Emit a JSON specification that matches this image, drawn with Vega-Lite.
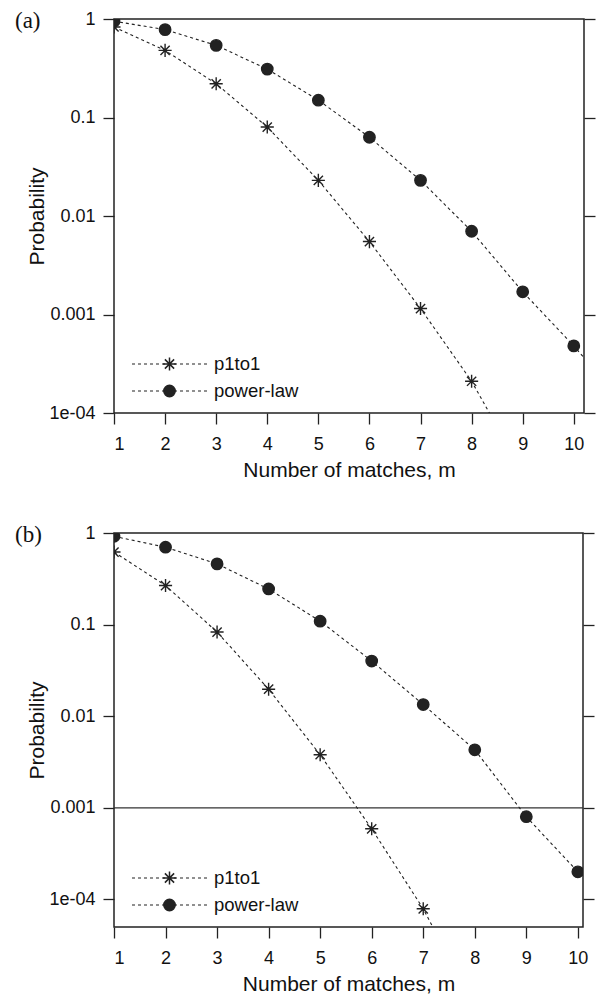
{
  "$schema": "https://vega.github.io/schema/vega-lite/v6.json",
  "padding": {"left": 14, "top": 9, "right": 2, "bottom": 0},
  "spacing": 42,
  "resolve": {"scale": {"shape": "independent", "strokeDash": "independent"}},
  "config": {
    "font": "Liberation Sans",
    "view": {"stroke": "#222", "strokeWidth": 1.5},
    "axis": {
      "labelFont": "Liberation Sans", "labelFontSize": 18, "labelColor": "#111",
      "titleFont": "Liberation Sans", "titleFontSize": 21, "titleFontWeight": "normal", "titleColor": "#111",
      "tickColor": "#222", "tickSize": 11, "tickWidth": 1.3, "domain": false, "grid": false
    },
    "axisX": {"labelPadding": 11, "titlePadding": 6},
    "axisY": {"labelPadding": 8, "titlePadding": 1},
    "legend": {"labelFont": "Liberation Sans", "labelFontSize": 18.5, "labelColor": "#111", "padding": 0}
  },
  "datasets": {
    "a": [
      {"m": 1, "p": 0.83, "series": "p1to1"},
      {"m": 2, "p": 0.48, "series": "p1to1"},
      {"m": 3, "p": 0.22, "series": "p1to1"},
      {"m": 4, "p": 0.08, "series": "p1to1"},
      {"m": 5, "p": 0.023, "series": "p1to1"},
      {"m": 6, "p": 0.0055, "series": "p1to1"},
      {"m": 7, "p": 0.00115, "series": "p1to1"},
      {"m": 8, "p": 0.00021, "series": "p1to1"},
      {"m": 9, "p": 0.000025, "series": "p1to1"},
      {"m": 1, "p": 0.95, "series": "power-law"},
      {"m": 2, "p": 0.78, "series": "power-law"},
      {"m": 3, "p": 0.54, "series": "power-law"},
      {"m": 4, "p": 0.31, "series": "power-law"},
      {"m": 5, "p": 0.15, "series": "power-law"},
      {"m": 6, "p": 0.063, "series": "power-law"},
      {"m": 7, "p": 0.023, "series": "power-law"},
      {"m": 8, "p": 0.007, "series": "power-law"},
      {"m": 9, "p": 0.0017, "series": "power-law"},
      {"m": 10, "p": 0.00048, "series": "power-law"},
      {"m": 11, "p": 0.00012, "series": "power-law"}
    ],
    "b": [
      {"m": 1, "p": 0.62, "series": "p1to1"},
      {"m": 2, "p": 0.267, "series": "p1to1"},
      {"m": 3, "p": 0.083, "series": "p1to1"},
      {"m": 4, "p": 0.0197, "series": "p1to1"},
      {"m": 5, "p": 0.0038, "series": "p1to1"},
      {"m": 6, "p": 0.00059, "series": "p1to1"},
      {"m": 7, "p": 0.000079, "series": "p1to1"},
      {"m": 8, "p": 0.0000067, "series": "p1to1"},
      {"m": 1, "p": 0.92, "series": "power-law"},
      {"m": 2, "p": 0.70, "series": "power-law"},
      {"m": 3, "p": 0.46, "series": "power-law"},
      {"m": 4, "p": 0.245, "series": "power-law"},
      {"m": 5, "p": 0.109, "series": "power-law"},
      {"m": 6, "p": 0.040, "series": "power-law"},
      {"m": 7, "p": 0.0134, "series": "power-law"},
      {"m": 8, "p": 0.0043, "series": "power-law"},
      {"m": 9, "p": 0.0008, "series": "power-law"},
      {"m": 10, "p": 0.0002, "series": "power-law"},
      {"m": 11, "p": 0.000045, "series": "power-law"}
    ]
  },
  "vconcat": [
    {
      "title": {"text": "(a)", "orient": "top", "anchor": "start", "frame": "group", "font": "Liberation Serif", "fontSize": 23, "fontWeight": "normal", "color": "#111", "baseline": "middle", "offset": 0, "dx": -99, "dy": 34},
      "width": 470,
      "height": 394,
      "data": {"name": "a"},
      "resolve": {"axis": {"y": "independent"}},
      "layer": [
        {
          "mark": {"type": "line", "clip": true, "color": "#222", "strokeWidth": 1.1},
          "encoding": {
            "x": {"field": "m", "type": "quantitative", "scale": {"domain": [1, 10.2], "nice": false, "zero": false},
                  "axis": {"values": [1, 2, 3, 4, 5, 6, 7, 8, 9, 10], "title": "Number of matches, m"}},
            "y": {"field": "p", "type": "quantitative", "scale": {"type": "log", "domain": [0.0001, 1], "nice": false},
                  "axis": {"values": [1, 0.1, 0.01, 0.001, 0.0001], "labelExpr": "datum.value < 0.0005 ? '1e-04' : datum.value < 0.005 ? '0.001' : datum.value < 0.05 ? '0.01' : datum.value < 0.5 ? '0.1' : '1'", "title": "Probability"}},
            "strokeDash": {"field": "series", "type": "nominal", "scale": {"range": [[3, 3], [3, 3]]},
                           "legend": {"orient": "none", "legendX": 17, "legendY": 335, "title": null, "symbolType": "stroke", "symbolSize": 5625, "symbolStrokeColor": "#222", "symbolStrokeWidth": 1.1, "labelOffset": 6, "clipHeight": 20, "rowPadding": 7}}
          }
        },
        {
          "mark": {"type": "point", "clip": true, "filled": true, "fill": "#222", "stroke": "#222", "strokeWidth": 1.4, "size": 130, "opacity": 1},
          "encoding": {
            "x": {"field": "m", "type": "quantitative"},
            "y": {"field": "p", "type": "quantitative", "axis": {"orient": "right", "labels": false, "title": null, "values": [1, 0.1, 0.01, 0.001, 0.0001]}},
            "shape": {"field": "series", "type": "nominal", "scale": {"domain": ["p1to1", "power-law"], "range": ["M-1.15,0H1.15M0,-1.15V1.15M-0.81,-0.81L0.81,0.81M-0.81,0.81L0.81,-0.81", "circle"]},
                      "legend": {"orient": "none", "legendX": 49, "legendY": 335, "title": null, "symbolSize": 130, "labelOpacity": 0, "labelFontSize": 1, "clipHeight": 20, "rowPadding": 7,
                                 "encode": {"symbols": {"update": {"fill": {"value": "#222"}, "stroke": {"value": "#222"}, "strokeWidth": {"value": 1.4}, "opacity": {"value": 1}}}}}}
          }
        }
      ]
    },
    {
      "title": {"text": "(b)", "orient": "top", "anchor": "start", "frame": "group", "font": "Liberation Serif", "fontSize": 23, "fontWeight": "normal", "color": "#111", "baseline": "middle", "offset": 0, "dx": -99, "dy": 34},
      "width": 469,
      "height": 394,
      "data": {"name": "b"},
      "resolve": {"axis": {"y": "independent"}},
      "layer": [
        {
          "data": {"values": [{"p": 0.001}]},
          "mark": {"type": "rule", "color": "#333", "strokeWidth": 1.2},
          "encoding": {"y": {"field": "p", "type": "quantitative", "axis": null}}
        },
        {
          "mark": {"type": "line", "clip": true, "color": "#222", "strokeWidth": 1.1},
          "encoding": {
            "x": {"field": "m", "type": "quantitative", "scale": {"domain": [1, 10.1], "nice": false, "zero": false},
                  "axis": {"values": [1, 2, 3, 4, 5, 6, 7, 8, 9, 10], "title": "Number of matches, m"}},
            "y": {"field": "p", "type": "quantitative", "scale": {"type": "log", "domain": [0.00005, 1], "nice": false},
                  "axis": {"values": [1, 0.1, 0.01, 0.001, 0.0001], "labelExpr": "datum.value < 0.0005 ? '1e-04' : datum.value < 0.005 ? '0.001' : datum.value < 0.05 ? '0.01' : datum.value < 0.5 ? '0.1' : '1'", "title": "Probability"}},
            "strokeDash": {"field": "series", "type": "nominal", "scale": {"range": [[3, 3], [3, 3]]},
                           "legend": {"orient": "none", "legendX": 17, "legendY": 335, "title": null, "symbolType": "stroke", "symbolSize": 5625, "symbolStrokeColor": "#222", "symbolStrokeWidth": 1.1, "labelOffset": 6, "clipHeight": 20, "rowPadding": 7}}
          }
        },
        {
          "mark": {"type": "point", "clip": true, "filled": true, "fill": "#222", "stroke": "#222", "strokeWidth": 1.4, "size": 130, "opacity": 1},
          "encoding": {
            "x": {"field": "m", "type": "quantitative"},
            "y": {"field": "p", "type": "quantitative", "axis": {"orient": "right", "labels": false, "title": null, "values": [1, 0.1, 0.01, 0.001, 0.0001]}},
            "shape": {"field": "series", "type": "nominal", "scale": {"domain": ["p1to1", "power-law"], "range": ["M-1.15,0H1.15M0,-1.15V1.15M-0.81,-0.81L0.81,0.81M-0.81,0.81L0.81,-0.81", "circle"]},
                      "legend": {"orient": "none", "legendX": 49, "legendY": 335, "title": null, "symbolSize": 130, "labelOpacity": 0, "labelFontSize": 1, "clipHeight": 20, "rowPadding": 7,
                                 "encode": {"symbols": {"update": {"fill": {"value": "#222"}, "stroke": {"value": "#222"}, "strokeWidth": {"value": 1.4}, "opacity": {"value": 1}}}}}}
          }
        }
      ]
    }
  ]
}
